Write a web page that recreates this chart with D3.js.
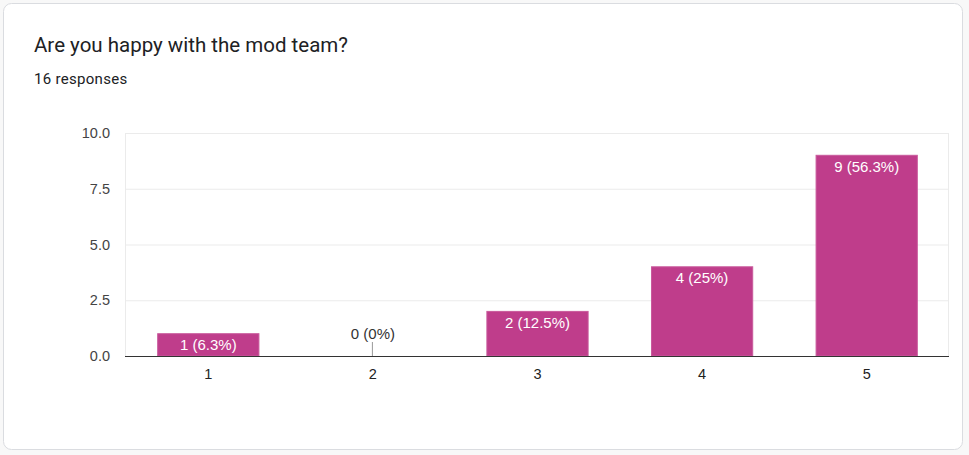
<!DOCTYPE html>
<html><head><meta charset="utf-8">
<script src="https://cdn.jsdelivr.net/npm/d3@7"></script>
<style>
html,body{margin:0;padding:0;background:#f8f8f8;}
svg{display:block;}
</style></head>
<body>
<svg id="c" width="969" height="455"></svg>
<script>
const categories = ["1","2","3","4","5"];
const counts = [1,0,2,4,9];
const labels = ["1 (6.3%)","0 (0%)","2 (12.5%)","4 (25%)","9 (56.3%)"];
const yTicks = [0,2.5,5,7.5,10];
const title = "Are you happy with the mod team?";
const subtitle = "16 responses";

const svg = d3.select("#c");
svg.append("rect").attr("x",3.5).attr("y",3.5).attr("width",959).attr("height",446)
  .attr("rx",8).attr("fill","#fff").attr("stroke","#dadce0");

svg.append("text").attr("x",34).attr("y",52).text(title)
  .attr("font-family","Roboto, 'Noto Sans', sans-serif").attr("font-size",20.5).attr("fill","#202124");
svg.append("text").attr("x",34).attr("y",84).text(subtitle)
  .attr("font-family","Roboto, Arial, sans-serif").attr("font-size",15).attr("letter-spacing",0.3).attr("fill","#202124");

const L=125, R=948, T=133, B=356;
const x = d3.scaleBand().domain(categories).range([L,R]).paddingInner(0.385).paddingOuter(0.1925);
const y = d3.scaleLinear().domain([0,10]).range([B,T]);

const g = svg.append("g");
// grid
g.selectAll(".grid").data(yTicks.filter(d=>d>0)).join("line")
  .attr("x1",L).attr("x2",R).attr("y1",d=>y(d)+0.5).attr("y2",d=>y(d)+0.5)
  .attr("stroke","#ebebeb");
g.append("line").attr("x1",L+0.5).attr("x2",L+0.5).attr("y1",T).attr("y2",B).attr("stroke","#ebebeb");
g.append("line").attr("x1",R+0.5).attr("x2",R+0.5).attr("y1",T).attr("y2",B).attr("stroke","#ebebeb");

// y axis labels
const yAxis = d3.axisLeft(y).tickValues(yTicks).tickFormat(d3.format(".1f")).tickSize(0).tickPadding(15);
const ya = svg.append("g").attr("transform",`translate(${L},0)`).call(yAxis);
ya.select(".domain").remove();
ya.selectAll("text").attr("font-family","Arial, 'Liberation Sans', sans-serif").attr("font-size",14.5).attr("fill","#444");

// bars
g.selectAll(".bar").data(counts).join("rect")
  .attr("x",(d,i)=>x(categories[i])+1).attr("width",x.bandwidth())
  .attr("y",d=>y(d)).attr("height",d=>B-y(d))
  .attr("fill","#bf3d8b").attr("stroke","#c95a9c").attr("stroke-width",1)
  .attr("display",d=>d>0?null:"none");

// zero stub
counts.forEach((d,i)=>{
  if(d===0){
    const cx = x(categories[i])+x.bandwidth()/2;
    g.append("line").attr("x1",cx+0.5).attr("x2",cx+0.5).attr("y1",B-14).attr("y2",B).attr("stroke","#999");
  }
});

// labels
g.selectAll(".lbl").data(counts).join("text")
  .attr("x",(d,i)=>x(categories[i])+x.bandwidth()/2+1)
  .attr("y",d=>d>0? y(d)+16.5 : B-17)
  .attr("text-anchor","middle")
  .attr("font-family","Arial, 'Liberation Sans', sans-serif").attr("font-size",15)
  .attr("fill",d=>d>0?"#fff":"#333")
  .text((d,i)=>labels[i]);

// baseline
g.append("line").attr("x1",L).attr("x2",R+1).attr("y1",B+0.5).attr("y2",B+0.5).attr("stroke","#333").attr("stroke-width",1.2);

// x axis
const xAxis = d3.axisBottom(x).tickSize(0).tickPadding(13);
const xa = svg.append("g").attr("transform",`translate(1,${B})`).call(xAxis);
xa.select(".domain").remove();
xa.selectAll("text").attr("font-family","Arial, 'Liberation Sans', sans-serif").attr("font-size",14.5).attr("fill","#222");
</script>
</body></html>
